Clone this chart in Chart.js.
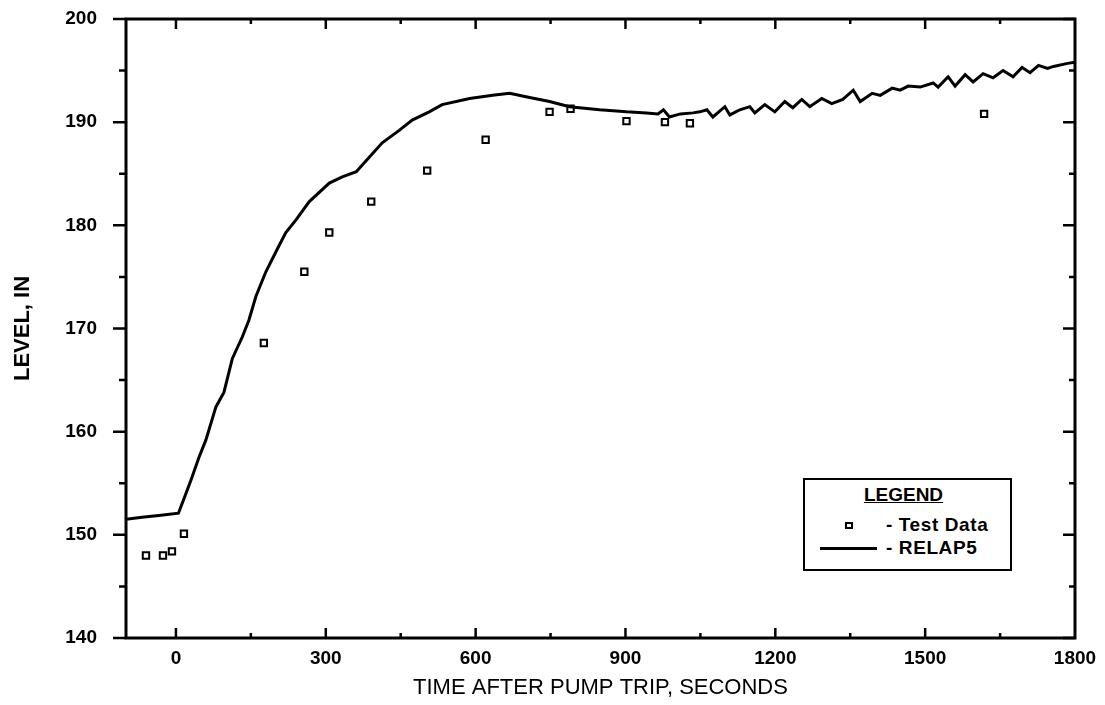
<!DOCTYPE html>
<html>
<head>
<meta charset="utf-8">
<script src="https://cdn.jsdelivr.net/npm/chart.js@4.4.1/dist/chart.umd.min.js"></script>
<style>
  body { margin: 0; background: #fff; }
  #wrap { position: relative; width: 1105px; height: 705px; }
  #legend {
    position: absolute; left: 803px; top: 478px; width: 209px; height: 93px;
    box-sizing: border-box; border: 2px solid #000; background: #fff;
    font-family: "Liberation Sans", Arial, sans-serif; font-weight: bold; color: #000;
  }
  #legend .title { position: absolute; left: 0; right: 8px; top: 4px; text-align: center; font-size: 19px; text-decoration: underline; }
  #legend .row { position: absolute; left: 0; right: 0; height: 22px; }
  #legend .txt { position: absolute; left: 81px; top: 0; font-size: 19px; line-height: 22px; letter-spacing: 0.6px; }
  #legend .sq { position: absolute; left: 40px; top: 8px; width: 4px; height: 3px; border: 2px solid #000; }
  #legend .ln { position: absolute; left: 15px; top: 10px; width: 57px; height: 3px; background: #000; }
</style>
</head>
<body>
<div id="wrap">
  <canvas id="myChart" width="1105" height="705"></canvas>
  <div id="legend">
    <div class="title">LEGEND</div>
    <div class="row" style="top:34px"><span class="sq"></span><span class="txt" id="lg0"></span></div>
    <div class="row" style="top:57px"><span class="ln"></span><span class="txt" id="lg1"></span></div>
  </div>
</div>
<script>
const seriesNames = ["Test Data", "RELAP5"];

// test data (seconds, inches)
const testTime = [-60, -26, -8, 16, 176, 257, 307, 391, 503, 620, 748, 790, 902, 979, 1029, 1618];
const testLevel = [148.0, 148.0, 148.4, 150.1, 168.6, 175.5, 179.3, 182.3, 185.3, 188.3, 191.0, 191.3, 190.1, 190.0, 189.9, 190.8];

// RELAP5 calculation
const relapTime = [-100, -68, -30, 5, 16, 30, 46, 60, 80, 96,
  113, 133, 146, 160, 180, 206, 220, 240, 267, 307,
  333, 361, 387, 413, 447, 473, 507, 533, 588, 634,
  668, 708, 748, 788, 848, 902, 942, 965, 976, 988,
  1010, 1035, 1049, 1063, 1075, 1099, 1109, 1129, 1149, 1159,
  1179, 1199, 1219, 1235, 1253, 1269, 1293, 1313, 1335, 1356,
  1370, 1394, 1410, 1434, 1450, 1466, 1490, 1516, 1526, 1546,
  1560, 1580, 1596, 1616, 1636, 1656, 1676, 1694, 1710, 1727,
  1745, 1757, 1785, 1800];
const relapLevel = [151.5, 151.7, 151.9, 152.1, 153.5, 155.3, 157.5, 159.2, 162.4, 163.8,
  167.1, 169.2, 170.8, 173.1, 175.5, 178.0, 179.3, 180.5, 182.3, 184.1,
  184.7, 185.2, 186.6, 188.0, 189.2, 190.2, 191.0, 191.7, 192.3, 192.6,
  192.8, 192.4, 192.0, 191.5, 191.2, 191.0, 190.9, 190.8, 191.2, 190.5,
  190.8, 190.9, 191.0, 191.2, 190.5, 191.5, 190.7, 191.2, 191.5, 190.9,
  191.7, 191.0, 192.0, 191.4, 192.2, 191.5, 192.3, 191.8, 192.2, 193.1,
  192.0, 192.8, 192.6, 193.3, 193.1, 193.5, 193.4, 193.8, 193.4, 194.4,
  193.5, 194.6, 193.9, 194.7, 194.3, 195.0, 194.4, 195.3, 194.8, 195.5,
  195.2, 195.4, 195.7, 195.8];

const xTicks = [0, 300, 600, 900, 1200, 1500, 1800];
const xMinor = [150, 450, 750, 1050, 1350, 1650];
const yTicks = [140, 150, 160, 170, 180, 190, 200];
const yMinor = [145, 155, 165, 175, 185, 195];

const FONT = '"Liberation Sans", Arial, sans-serif';

// frame with inward/outward tick marks like the original plot
const frameTicks = {
  id: "frameTicks",
  afterDraw(chart) {
    const { ctx, chartArea: a, scales: { x, y } } = chart;
    ctx.save();
    ctx.strokeStyle = "#000";
    ctx.lineWidth = 3;
    ctx.strokeRect(a.left, a.top, a.right - a.left, a.bottom - a.top);
    ctx.lineWidth = 2.5;
    ctx.beginPath();
    const yt = (vals, outL, inR) => vals.forEach((v) => {
      const p = y.getPixelForValue(v);
      ctx.moveTo(a.left - outL, p); ctx.lineTo(a.left, p);
      ctx.moveTo(a.right - inR, p); ctx.lineTo(a.right, p);
    });
    const xt = (vals, len) => vals.forEach((v) => {
      const p = x.getPixelForValue(v);
      ctx.moveTo(p, a.bottom); ctx.lineTo(p, a.bottom - len);
      ctx.moveTo(p, a.top); ctx.lineTo(p, a.top + len);
    });
    yt(yTicks, 13, 12);
    yt(yMinor, 7, 6);
    xt(xTicks.slice(0, -1), 10);
    xt(xMinor, 5);
    ctx.stroke();
    ctx.restore();
  }
};

const ctx = document.getElementById("myChart").getContext("2d");

const chart = new Chart(ctx, {
  type: "scatter",
  data: {
    datasets: [
      {
        label: seriesNames[1],
        data: relapTime.map((t, i) => ({ x: t, y: relapLevel[i] })),
        showLine: true,
        borderColor: "#000",
        borderWidth: 3,
        pointRadius: 0,
        tension: 0,
        order: 1,
      },
      {
        label: seriesNames[0],
        data: testTime.map((t, i) => ({ x: t, y: testLevel[i] })),
        pointStyle: "rect",
        pointRadius: 4.5,
        borderWidth: 2,
        borderColor: "#000",
        backgroundColor: "#fff",
        order: 2,
      },
    ],
  },
  options: {
    responsive: false,
    animation: false,
    layout: { padding: { left: 0, top: 19, right: 30, bottom: 0 } },
    plugins: { legend: { display: false }, tooltip: { enabled: false } },
    scales: {
      x: {
        type: "linear",
        min: -100,
        max: 1800,
        afterBuildTicks: (s) => { s.ticks = xTicks.map((v) => ({ value: v })); },
        afterFit: (s) => { s.height = 67; s.paddingLeft = 0; s.paddingRight = 0; },
        grid: { display: false, drawTicks: false },
        border: { display: false },
        ticks: { color: "#000", padding: 9, maxRotation: 0, autoSkip: false, callback: (v) => String(v), font: { family: FONT, size: 19, weight: "bold" } },
        title: { display: true, text: "TIME AFTER PUMP TRIP, SECONDS", color: "#000", padding: { top: 0, bottom: 4 }, font: { family: FONT, size: 22 } },
      },
      y: {
        type: "linear",
        min: 140,
        max: 200,
        afterBuildTicks: (s) => { s.ticks = yTicks.map((v) => ({ value: v })); },
        afterFit: (s) => { s.width = 126; s.paddingTop = 0; s.paddingBottom = 0; },
        grid: { display: false, drawTicks: false },
        border: { display: false },
        ticks: { color: "#000", padding: 29, font: { family: FONT, size: 19, weight: "bold" } },
        title: { display: true, text: "LEVEL, IN", color: "#000", padding: { top: 10, bottom: 0 }, font: { family: FONT, size: 22, weight: "bold" } },
      },
    },
  },
  plugins: [frameTicks],
});

document.getElementById("lg0").textContent = "- " + chart.data.datasets[1].label;
document.getElementById("lg1").textContent = "- " + chart.data.datasets[0].label;
</script>
</body>
</html>
